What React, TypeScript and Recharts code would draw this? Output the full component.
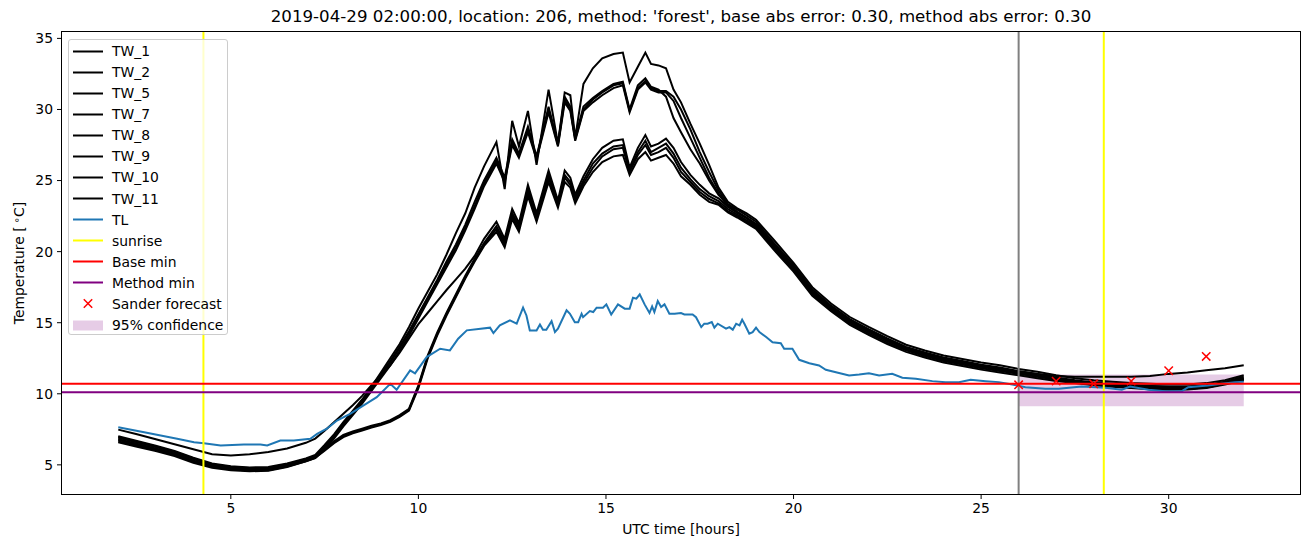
import React from "react";
import {
    ComposedChart,
    Line,
    Scatter,
    XAxis,
    YAxis,
    ReferenceLine,
    ReferenceArea,
} from "recharts";

// shared time grid of the TW sensors (hours)
const TW_TIMES = [
    2, 2.5, 3, 3.5, 4, 4.5, 5, 5.5, 6, 6.5,
    7, 7.25, 7.5, 7.75, 8, 8.25, 8.5, 8.75, 9, 9.25, 9.5, 9.75, 10, 10.25, 10.5, 10.75, 11, 11.25, 11.5, 11.75,
    12.08, 12.3, 12.5, 12.68, 12.92, 13.15, 13.47, 13.72, 13.9, 14.05, 14.18, 14.4, 14.65, 14.9, 15.2, 15.45, 15.63, 15.85, 16.05, 16.2, 16.4, 16.6, 16.8,
    17, 17.25, 17.5, 17.75, 18, 18.25, 18.5, 18.75, 19, 19.5, 20,
    20.5, 21, 21.5, 22, 22.5, 23, 23.5, 24, 24.5, 25, 25.5, 26, 26.5, 27, 27.5, 28, 28.5, 29, 29.5, 30, 30.5, 31, 31.5, 32,
];

const TW_1 = [
    7.02, 6.68, 6.35, 5.98, 5.5, 5.1, 4.9, 4.82, 4.85, 5.1,
    5.45, 5.7, 6.4, 7.15, 8.0, 8.8, 9.6, 10.5, 11.5, 12.5, 13.5, 14.7, 16.0, 17.2, 18.4, 19.8, 21.3, 22.7, 24.5, 26.0,
    27.7, 24.4, 29.2, 27.4, 29.9, 26.1, 31.4, 27.6, 31.2, 31.0, 28.0, 31.8, 32.9, 33.6, 33.9, 34.0, 31.9, 33.0, 34.0, 33.2, 33.1, 32.9, 31.4,
    30.5, 29.0, 27.6, 26.1, 24.5, 23.5, 23.05, 22.7, 22.25, 20.75, 19.2,
    17.5, 16.35, 15.4, 14.7, 14.05, 13.45, 13.05, 12.7, 12.45, 12.2, 12.0, 11.75, 11.55, 11.3, 11.1, 10.95, 10.85, 10.75, 10.7, 10.65, 10.65, 10.75, 10.95, 11.3,
];
const TW_2 = [
    6.9, 6.58, 6.25, 5.9, 5.4, 5.0, 4.8, 4.72, 4.72, 5.0,
    5.35, 5.6, 6.3, 7.05, 7.9, 8.7, 9.5, 10.4, 11.35, 12.3, 13.3, 14.4, 15.6, 16.8, 18.0, 19.3, 20.5, 21.9, 23.5, 25.0,
    26.6, 25.2, 27.9, 26.9, 28.8, 26.7, 30.2, 27.6, 30.9, 30.2, 28.0, 30.2, 30.8, 31.3, 31.8, 31.95, 30.0, 31.7, 32.2, 31.6, 31.4, 30.9, 29.4,
    28.4, 27.2, 26.2, 25.0, 24.0, 23.3, 22.8, 22.4, 21.95, 20.4, 18.9,
    17.2, 16.05, 15.15, 14.45, 13.8, 13.2, 12.8, 12.45, 12.2, 11.95, 11.75, 11.5, 11.3, 11.05, 10.85, 10.7, 10.6, 10.5, 10.45, 10.4, 10.4, 10.5, 10.75, 11.05,
];
const TW_5 = [
    6.8, 6.48, 6.15, 5.8, 5.3, 4.92, 4.72, 4.66, 4.66, 4.92,
    5.3, 5.52, 6.2, 6.95, 7.8, 8.6, 9.4, 10.3, 11.25, 12.2, 13.2, 14.3, 15.5, 16.7, 17.9, 19.1, 20.3, 21.7, 23.2, 24.8,
    26.4, 25.0, 27.7, 26.8, 28.6, 26.6, 30.0, 27.5, 30.7, 30.0, 27.9, 30.0, 30.7, 31.2, 31.7, 31.85, 29.9, 31.5, 32.0, 31.5, 31.3, 31.3, 30.9,
    30.0, 28.6, 27.0, 25.6, 24.3, 23.35, 22.95, 22.55, 22.1, 20.55, 19.05,
    17.35, 16.2, 15.25, 14.55, 13.9, 13.3, 12.9, 12.55, 12.3, 12.05, 11.85, 11.6, 11.4, 11.15, 10.95, 10.8, 10.7, 10.6, 10.55, 10.5, 10.5, 10.6, 10.85, 11.2,
];
const TW_7 = [
    6.65, 6.35, 6.05, 5.7, 5.22, 4.86, 4.68, 4.6, 4.62, 4.88,
    5.25, 5.48, 6.1, 6.85, 7.7, 8.5, 9.3, 10.2, 11.1, 12.0, 13.0, 14.1, 15.3, 16.5, 17.7, 18.9, 20.1, 21.5, 23.0, 24.6,
    26.2, 24.9, 27.5, 26.6, 28.4, 26.5, 29.8, 27.4, 30.5, 29.9, 27.8, 29.9, 30.5, 31.0, 31.5, 31.7, 29.8, 31.4, 31.9, 31.4, 31.2, 31.2, 30.6,
    29.4, 28.0, 26.6, 25.2, 24.1, 23.2, 22.75, 22.35, 21.9, 20.35, 18.85,
    17.15, 16.0, 15.1, 14.4, 13.75, 13.15, 12.75, 12.4, 12.15, 11.9, 11.7, 11.45, 11.25, 11.0, 10.8, 10.65, 10.55, 10.45, 10.4, 10.35, 10.35, 10.45, 10.7, 11.0,
];
const TW_8 = [
    7.48, 7.15, 6.8, 6.45, 6.1, 5.75, 5.66, 5.75, 5.9, 6.15,
    6.55, 6.85, 7.4, 8.0, 8.6, 9.2, 9.85, 10.6, 11.3, 12.0, 12.9, 13.9, 14.9, 15.7, 16.5, 17.3, 18.05, 18.8, 19.7, 20.9,
    22.1, 20.9, 23.0, 22.0, 24.7, 22.7, 25.7, 23.6, 25.7, 25.2, 24.0, 25.3, 26.5, 27.3, 27.8, 27.9, 25.9, 27.3, 28.2, 27.4, 27.6, 27.95, 27.3,
    26.3, 25.4, 24.7, 24.1, 23.75, 23.15, 22.75, 22.35, 21.9, 20.35, 18.85,
    17.2, 16.1, 15.15, 14.45, 13.8, 13.25, 12.85, 12.5, 12.25, 12.0, 11.8, 11.55, 11.4, 11.25, 11.2, 11.2, 11.2, 11.2, 11.25, 11.4, 11.5, 11.65, 11.8, 12.0,
];
const TW_9 = [
    6.95, 6.62, 6.3, 5.92, 5.45, 5.05, 4.85, 4.78, 4.8, 5.05,
    5.4, 5.62, 6.1, 6.65, 7.1, 7.35, 7.55, 7.75, 7.92, 8.15, 8.5, 8.95, 10.6, 12.7, 14.3, 15.7, 17.0, 18.3, 19.5, 20.6,
    21.8, 20.7, 22.7, 21.8, 24.4, 22.5, 25.4, 23.4, 25.4, 24.9, 23.8, 25.0, 26.2, 26.9, 27.4, 27.5, 25.7, 27.0, 27.8, 27.0, 27.3, 27.6, 26.9,
    25.9, 25.1, 24.4, 23.9, 23.55, 23.0, 22.6, 22.2, 21.8, 20.25, 18.8,
    17.1, 16.0, 15.05, 14.35, 13.7, 13.15, 12.75, 12.4, 12.15, 11.9, 11.7, 11.45, 11.25, 11.05, 10.9, 10.75, 10.65, 10.6, 10.55, 10.5, 10.5, 10.6, 10.8, 11.1,
];
const TW_10 = [
    6.75, 6.42, 6.1, 5.75, 5.28, 4.9, 4.72, 4.64, 4.65, 4.92,
    5.32, 5.55, 6.05, 6.58, 7.02, 7.28, 7.48, 7.68, 7.85, 8.08, 8.42, 8.88, 10.5, 12.6, 14.2, 15.6, 16.9, 18.2, 19.4, 20.5,
    21.6, 20.5, 22.5, 21.6, 24.2, 22.3, 25.2, 23.3, 25.2, 24.7, 23.6, 24.8, 25.9, 26.7, 27.2, 27.3, 25.6, 26.8, 27.5, 26.8, 27.0, 27.3, 26.6,
    25.6, 24.9, 24.2, 23.7, 23.4, 22.85, 22.5, 22.1, 21.7, 20.15, 18.7,
    17.0, 15.9, 14.95, 14.25, 13.6, 13.05, 12.65, 12.3, 12.05, 11.8, 11.6, 11.4, 11.2, 11.0, 10.8, 10.65, 10.55, 10.45, 10.4, 10.35, 10.35, 10.45, 10.7, 11.0,
];
const TW_11 = [
    6.58, 6.28, 5.98, 5.62, 5.15, 4.8, 4.62, 4.55, 4.58, 4.85,
    5.25, 5.5, 6.0, 6.52, 6.95, 7.22, 7.42, 7.62, 7.8, 8.02, 8.38, 8.82, 10.4, 12.5, 14.1, 15.5, 16.8, 18.1, 19.3, 20.4,
    21.4, 20.3, 22.3, 21.4, 23.9, 22.1, 24.9, 23.1, 24.9, 24.5, 23.4, 24.6, 25.6, 26.3, 26.7, 26.8, 25.4, 26.5, 27.0, 26.4, 26.6, 26.8, 26.2,
    25.3, 24.7, 24.0, 23.5, 23.3, 22.75, 22.4, 22.0, 21.6, 20.05, 18.6,
    16.9, 15.8, 14.85, 14.15, 13.5, 12.95, 12.55, 12.2, 11.95, 11.7, 11.5, 11.3, 11.1, 10.9, 10.75, 10.6, 10.5, 10.4, 10.32, 10.28, 10.3, 10.4, 10.65, 10.95,
];

const TW_NAMES = ["TW_1", "TW_2", "TW_5", "TW_7", "TW_8", "TW_9", "TW_10", "TW_11"];
const TW_SERIES = [TW_1, TW_2, TW_5, TW_7, TW_8, TW_9, TW_10, TW_11];

// air temperature
const TL_TIMES = [
    2.0, 2.69, 3.13, 3.57, 4.02, 4.28, 4.73, 5.35, 5.79, 5.97, 6.32, 6.68, 7.12, 7.3, 7.56, 7.83,
    8.18, 8.54, 8.89, 9.25, 9.42, 9.78, 9.91, 10.22, 10.58, 10.84, 11.06, 11.29, 11.91, 12.0,
    12.17, 12.44, 12.62, 12.79, 12.88, 12.97, 13.15, 13.24, 13.32, 13.41, 13.55, 13.64, 13.72, 13.95,
    14.04, 14.17, 14.26, 14.35, 14.39, 14.57, 14.66, 14.75, 14.92, 15.01, 15.14, 15.32, 15.5, 15.63,
    15.72, 15.81, 15.9, 16.03, 16.16, 16.23, 16.29, 16.38, 16.47, 16.56, 16.69, 16.83, 17.0, 17.09,
    17.31, 17.4, 17.54, 17.62, 17.71, 17.82, 17.89, 17.98, 18.2, 18.29, 18.38, 18.47, 18.56, 18.63,
    18.69, 18.82, 18.91, 19.0, 19.09, 19.27, 19.44, 19.66, 19.75, 19.97, 20.15, 20.42, 20.68, 20.86,
    21.13, 21.48, 21.75, 22.01, 22.28, 22.63, 22.9, 23.26, 23.7, 24.05, 24.41, 24.72, 25.12, 25.47,
    25.83, 26.18, 26.71, 27.07, 27.68, 28.31, 28.75, 28.97, 29.46, 29.9, 30.35, 30.52, 31.05, 31.41, 31.77, 32.0,
];
const TL_VALUES = [
    7.65, 7.3, 7.06, 6.83, 6.59, 6.52, 6.36, 6.43, 6.43, 6.36, 6.71, 6.71, 6.83, 7.18, 7.54, 8.12,
    8.59, 9.18, 9.76, 10.7, 10.28, 11.64, 11.43, 12.58, 13.17, 13.05, 13.87, 14.46, 14.65, 14.27,
    14.81, 15.16, 14.93, 16.06, 15.51, 14.46, 14.46, 14.88, 14.51, 14.51, 15.11, 14.34, 14.58, 15.87,
    15.63, 15.04, 15.04, 15.63, 15.39, 15.82, 15.75, 16.06, 16.06, 16.29, 15.58, 16.29, 15.99, 15.99,
    16.76, 16.69, 16.99, 16.29, 15.68, 16.15, 15.75, 16.52, 16.1, 16.29, 15.63, 15.63, 15.68, 15.58,
    15.58, 15.39, 14.69, 14.93, 14.93, 15.04, 14.65, 14.93, 14.58, 14.69, 14.51, 14.93, 14.81, 15.21,
    14.93, 14.23, 14.34, 14.65, 14.34, 13.99, 13.63, 13.56, 13.17, 13.17, 12.39, 12.15, 11.99, 11.69,
    11.52, 11.29, 11.36, 11.45, 11.29, 11.41, 11.13, 11.06, 10.89, 10.82, 10.82, 10.99, 10.89, 10.82,
    10.65, 10.46, 10.35, 10.35, 10.51, 10.42, 10.28, 10.51, 10.28, 10.18, 10.18, 10.46, 10.58, 10.7, 10.82, 10.85,
];

const SANDER_TIMES = [26, 27, 28, 29, 30, 31];
const SANDER_VALUES = [10.63, 10.89, 10.7, 10.89, 11.62, 12.63];

const SUNRISE_TIMES = [4.27, 28.27];
const FORECAST_START = 26;
const BASE_MIN = 10.7;
const METHOD_MIN = 10.1;
const CONF_START = 26;
const CONF_END = 32;
const CONF_LOW = 9.13;
const CONF_HIGH = 11.35;

const X_TICKS = [5, 10, 15, 20, 25, 30];
const Y_TICKS = [5, 10, 15, 20, 25, 30, 35];

const FONT = "'DejaVu Sans', sans-serif";
const LW = 2;

const toPoints = (times: number[], values: number[]) =>
    times
        .map((t, i) => ({ t, v: values[i] }))
        .filter((p) => p.v !== undefined);

const XMarker = (props: any) => {
    const { cx, cy } = props;
    const r = 4.2;
    return (
        <g>
            <line x1={cx - r} y1={cy - r} x2={cx + r} y2={cy + r} stroke="#ff0000" strokeWidth={1.5} />
            <line x1={cx - r} y1={cy + r} x2={cx + r} y2={cy - r} stroke="#ff0000" strokeWidth={1.5} />
        </g>
    );
};

type LegendItem = { label: string; kind: "line" | "cross" | "patch"; color: string };

const LEGEND_ITEMS: LegendItem[] = [
    ...TW_NAMES.map((n) => ({ label: n, kind: "line" as const, color: "#000000" })),
    { label: "TL", kind: "line", color: "#1f77b4" },
    { label: "sunrise", kind: "line", color: "#ffff00" },
    { label: "Base min", kind: "line", color: "#ff0000" },
    { label: "Method min", kind: "line", color: "#800080" },
    { label: "Sander forecast", kind: "cross", color: "#ff0000" },
    { label: "95% confidence", kind: "patch", color: "rgba(128,0,128,0.2)" },
];

function LegendBox() {
    return (
        <div
            style={{
                position: "absolute",
                left: 68,
                top: 39,
                width: 160,
                height: 296,
                background: "rgba(255,255,255,0.8)",
                border: "1px solid #cccccc",
                borderRadius: 3,
                paddingTop: 0.5,
                boxSizing: "border-box",
                fontFamily: FONT,
                fontSize: 13.9,
            }}
        >
            {LEGEND_ITEMS.map((item) => (
                <div key={item.label} style={{ position: "relative", height: 21.08 }}>
                    <svg width={34} height={21} style={{ position: "absolute", left: 2, top: 0 }}>
                        {item.kind === "line" && (
                            <line x1={2} y1={10.5} x2={32} y2={10.5} stroke={item.color} strokeWidth={2} />
                        )}
                        {item.kind === "cross" && <XMarker cx={17} cy={10.5} />}
                        {item.kind === "patch" && (
                            <rect x={2} y={5.5} width={30} height={10} fill={item.color} />
                        )}
                    </svg>
                    <span style={{ position: "absolute", left: 43, top: 1.5, whiteSpace: "nowrap", lineHeight: "18px" }}>
                        {item.label}
                    </span>
                </div>
            ))}
        </div>
    );
}

export default function App() {
    const sander = toPoints(SANDER_TIMES, SANDER_VALUES);
    const tl = toPoints(TL_TIMES, TL_VALUES);

    return (
        <div
            style={{
                position: "absolute",
                left: 0,
                top: 0,
                width: 1310,
                height: 547,
                background: "#ffffff",
                fontFamily: FONT,
            }}
        >
            <div
                style={{
                    position: "absolute",
                    left: 62,
                    top: 7,
                    width: 1238,
                    textAlign: "center",
                    fontSize: 16.67,
                    lineHeight: "20px",
                }}
            >
                2019-04-29 02:00:00, location: 206, method: 'forest', base abs error: 0.30, method abs error: 0.30
            </div>
            <ComposedChart
                width={1310}
                height={547}
                margin={{ top: 32, right: 10, bottom: 0, left: 0 }}
                style={{ fontFamily: FONT }}
            >
                <XAxis
                    type="number"
                    dataKey="t"
                    domain={[0.5, 33.5]}
                    ticks={X_TICKS}
                    interval={0}
                    allowDataOverflow
                    axisLine={false}
                    tickLine={{ stroke: "#000", strokeWidth: 1 }}
                    tickSize={5}
                    tickMargin={4}
                    height={53}
                    tick={{ fill: "#000", fontSize: 13.9 }}
                />
                <YAxis
                    type="number"
                    domain={[2.95, 35.45]}
                    ticks={Y_TICKS}
                    interval={0}
                    allowDataOverflow
                    axisLine={false}
                    tickLine={{ stroke: "#000", strokeWidth: 1 }}
                    tickSize={5}
                    tickMargin={4}
                    width={62}
                    tick={{ fill: "#000", fontSize: 13.9 }}
                />
                <ReferenceArea
                    x1={CONF_START}
                    x2={CONF_END}
                    y1={CONF_LOW}
                    y2={CONF_HIGH}
                    fill="#800080"
                    fillOpacity={0.2}
                    stroke="none"
                />
                {TW_SERIES.map((values, i) => (
                    <Line
                        key={TW_NAMES[i]}
                        name={TW_NAMES[i]}
                        data={toPoints(TW_TIMES, values)}
                        dataKey="v"
                        type="linear"
                        stroke="#000000"
                        strokeWidth={LW}
                        dot={false}
                        isAnimationActive={false}
                    />
                ))}
                <Line
                    name="TL"
                    data={tl}
                    dataKey="v"
                    type="linear"
                    stroke="#1f77b4"
                    strokeWidth={LW}
                    dot={false}
                    isAnimationActive={false}
                />
                {SUNRISE_TIMES.map((t) => (
                    <ReferenceLine key={t} x={t} stroke="#ffff00" strokeWidth={LW} />
                ))}
                <ReferenceLine x={FORECAST_START} stroke="#808080" strokeWidth={LW} />
                <ReferenceLine y={BASE_MIN} stroke="#ff0000" strokeWidth={LW} />
                <ReferenceLine y={METHOD_MIN} stroke="#800080" strokeWidth={LW} />
                <Scatter
                    name="Sander forecast"
                    data={sander}
                    dataKey="v"
                    shape={<XMarker />}
                    isAnimationActive={false}
                />
            </ComposedChart>
            <div
                style={{
                    position: "absolute",
                    left: 61,
                    top: 31,
                    width: 1238,
                    height: 462,
                    border: "1px solid #000",
                    pointerEvents: "none",
                }}
            />
            <LegendBox />
            <div
                style={{
                    position: "absolute",
                    left: 62,
                    top: 520,
                    width: 1238,
                    textAlign: "center",
                    fontSize: 13.9,
                    lineHeight: "18px",
                }}
            >
                UTC time [hours]
            </div>
            <div
                style={{
                    position: "absolute",
                    left: 18,
                    top: 263,
                    transform: "translate(-50%, -50%) rotate(-90deg)",
                    fontSize: 13.9,
                    lineHeight: "18px",
                    whiteSpace: "nowrap",
                }}
            >
                Temperature [<sup style={{ fontSize: 10, verticalAlign: "4px" }}> ∘</sup>C]
            </div>
        </div>
    );
}
